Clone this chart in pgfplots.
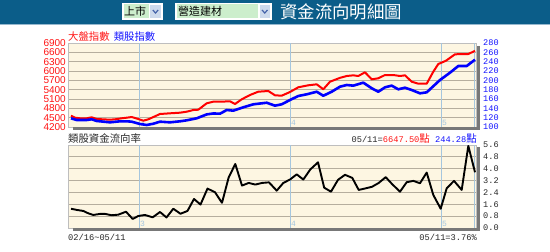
\documentclass[border=0pt]{standalone}
\usepackage{pgfplots}
\usepackage{pgfplotstable}
\pgfplotsset{compat=1.18}
\usepackage{fontspec}
\setmainfont{Liberation Sans}
\newfontfamily\cjk{Noto Sans CJK TC}
\newfontfamily\mono{Liberation Mono}
\definecolor{hdr}{RGB}{11,93,137}
\definecolor{hdrline}{RGB}{150,184,206}
\definecolor{cream}{RGB}{253,246,226}
\definecolor{gridc}{RGB}{182,174,158}
\definecolor{vlc}{RGB}{165,198,222}
\definecolor{shadow}{RGB}{120,120,120}
\definecolor{labred}{RGB}{255,20,20}
\definecolor{labblue}{RGB}{20,20,255}
\definecolor{fieldg}{RGB}{204,238,204}
\definecolor{btn}{RGB}{205,218,236}
\definecolor{chev}{RGB}{70,100,170}
\definecolor{boxln}{RGB}{190,190,190}
\definecolor{txt}{RGB}{40,40,40}
\newcommand{\mn}{\mono\fontsize{8.7}{10}\selectfont}
\newcommand{\ck}{\cjk\fontsize{10.4}{12}\selectfont}

\pgfplotstableread{
x v
71 4563
75 4499
80 4480
86.7 4480
91.7 4512
96.7 4457
110 4435
115 4447
121.7 4480
126.7 4499
131.7 4521
138.3 4457
143.3 4403
148.3 4447
155 4544
160 4618
170 4640
180 4660
186.7 4692
193.3 4746
198.3 4756
206.7 4962
213.3 5013
220 5013
230 5026
235 4939
241.7 5090
250 5228
258.3 5335
268.3 5357
275 5219
281.7 5206
290 5325
298.3 5476
308.3 5540
316.7 5572
323.3 5412
330 5656
340 5780
346.7 5839
353.3 5861
358.3 5839
365 5958
371.7 5733
378.3 5765
385 5871
393.3 5871
400 5839
405 5861
411.7 5656
418.3 5592
426.7 5592
433.3 5977
438.3 6225
446 6331
455 6537
468.3 6546
475 6647.5
}\reddata

\pgfplotstableread{
x v
71 118.6
76.7 115
86.7 115
91.7 116.5
96.7 112.9
110 110
120 112.2
126.7 112.2
131.7 111.4
140 106.4
146.7 104.3
153.3 107
160 111.4
170 110
180 112.2
186.7 114.3
196.7 118.6
206.7 127
213.3 129
220 128.5
226.7 136.4
233.3 135
243.3 142.2
253.3 148.6
266.7 152
275 145.7
281.7 148.6
290 157.9
298.3 166.4
306.7 170
316.7 175.6
323.3 167
331.7 175.6
340 186.4
346.7 190
353.3 188.6
363.3 195
371.7 183
378.3 175.6
385 185
391.7 188.6
398.3 180.8
405 184.2
411.7 179.3
420 172.2
426.7 174.3
440 200.7
450 216.4
458.3 230.7
466.7 230.7
475 244.28
}\bluedata

\pgfplotstableread{
x v
71 1.30
76.7 1.22
83.3 1.15
88 1.00
93.3 0.88
100 0.95
105 0.95
111.7 0.86
118.3 0.90
126 1.10
132.7 0.61
138.3 0.81
145 0.88
152.7 0.72
160 1.08
166.5 0.71
173.3 1.30
180.5 0.96
187.5 1.15
194 1.96
200.5 1.58
207.5 2.66
215 2.41
222 1.70
228.7 3.42
235.3 4.32
242 2.86
248.7 3.04
255.3 2.93
262 3.04
269 3.08
276.7 2.52
283.3 3.04
290 3.27
296.7 3.62
303.3 3.27
310.3 3.95
318 4.43
324.2 2.72
331 2.45
338 3.25
345 3.59
352.3 3.38
358.7 2.57
365.3 2.67
372 2.78
378.7 3.04
385.7 3.43
392.3 2.95
400 2.45
406.7 3.09
413.3 3.18
420 3.02
426.7 3.74
433.3 2.23
440.7 1.30
446.7 2.68
454 3.18
461.7 2.57
468.3 5.54
475 3.76
}\flowdata

\pgfplotsset{
  base/.style={
    scale only axis, width=408pt, xmin=68, xmax=476,
    xtick=\empty, major tick length=0pt,
    axis line style={draw=boxln, line width=0.6pt},
    /pgf/number format/assume math mode=true,
    /pgf/number format/1000 sep={},
    scaled y ticks=false,
    clip=true,
  }
}

\begin{document}
\begin{tikzpicture}
\begin{scope}[x=1pt,y=1pt]
\useasboundingbox (0,0) rectangle (550,252);
\fill[white] (0,0) rectangle (550,252);
% header
\fill[hdr] (0,228) rectangle (550,252);
\draw[hdrline, line width=1pt] (0,227.5) -- (550,227.5);
% dropdown 1
\fill[white] (122,232) rectangle (163,249);
\fill[fieldg] (123.5,233.5) rectangle (148.5,247.5);
\fill[btn] (149.5,233.5) rectangle (161.5,247.5);
\draw[white,line width=0.5pt] (149.5,233.5) rectangle (161.5,247.5);
\draw[chev, line width=1.2pt] (152.8,242) -- (155.5,239) -- (158.2,242);
\node[anchor=west, inner sep=0pt, text=black] at (124,240.5) {\cjk\fontsize{11}{12}\selectfont 上市};
% dropdown 2
\fill[white] (175,232) rectangle (272,249);
\fill[fieldg] (176.5,233.5) rectangle (258,247.5);
\fill[btn] (259,233.5) rectangle (270.5,247.5);
\draw[white,line width=0.5pt] (259,233.5) rectangle (270.5,247.5);
\draw[chev, line width=1.2pt] (262,242) -- (264.75,239) -- (267.5,242);
\node[anchor=west, inner sep=0pt, text=black] at (178,240.5) {\cjk\fontsize{11}{12}\selectfont 營造建材};
% title
\node[anchor=west, inner sep=0pt, text=white] at (280,240) {\cjk\fontsize{17.4}{18}\selectfont 資金流向明細圖};
% legend texts
\node[anchor=west, inner sep=0pt] at (68,215) {\ck\textcolor{labred}{大盤指數}\hspace{4pt}\textcolor{labblue}{類股指數}};
\end{scope}

% top axis (left, red)
\begin{axis}[base, at={(68pt,125pt)}, anchor=south west, height=84pt,
  ymin=4200, ymax=6900, ytick={4200,4500,...,6900},
  ymajorgrids, grid style={gridc, line width=0.9pt},
  axis background/.style={fill=cream},
  yticklabel style={text=labred, font=\fontsize{10}{10}\selectfont, inner sep=0pt, xshift=-2pt},
]
\draw[vlc, line width=1pt] (139,4200) -- (139,6900);
\draw[vlc, line width=1pt] (290,4200) -- (290,6900);
\draw[vlc, line width=1pt] (441,4200) -- (441,6900);
\draw[vlc, line width=1pt] (474.5,4200) -- (474.5,6900);
\node[anchor=south west, inner sep=1pt, text=vlc, font=\mono\fontsize{8}{8}\selectfont] at (139,4200) {3};
\node[anchor=south west, inner sep=1pt, text=vlc, font=\mono\fontsize{8}{8}\selectfont] at (290,4200) {4};
\node[anchor=south west, inner sep=1pt, text=vlc, font=\mono\fontsize{8}{8}\selectfont] at (441,4200) {5};
\addplot[red, line width=2pt, line join=round] table[x=x,y=v] {\reddata};
\end{axis}
% top axis (right, blue)
\begin{axis}[base, at={(68pt,125pt)}, anchor=south west, height=84pt,
  ymin=100, ymax=280, ytick={100,120,...,280},
  axis x line=none, axis y line*=right,
  yticklabel style={text=labblue, font=\mono\fontsize{8.6}{9}\selectfont, inner sep=0pt, xshift=7pt},
]
\addplot[blue, line width=2.6pt, line join=round] table[x=x,y=v] {\bluedata};
\end{axis}

% bottom axis
\begin{axis}[base, at={(68pt,24pt)}, anchor=south west, height=83pt,
  ymin=0, ymax=5.6, ytick={0,0.8,1.6,2.4,3.2,4.0,4.8,5.6},
  yticklabel pos=right,
  ymajorgrids, grid style={gridc, line width=0.9pt},
  axis background/.style={fill=cream},
  yticklabel style={text=txt, font=\mono\fontsize{8.6}{9}\selectfont, inner sep=0pt, xshift=7pt,
    /pgf/number format/fixed, /pgf/number format/fixed zerofill, /pgf/number format/precision=1},
]
\draw[vlc, line width=1pt] (139,0) -- (139,5.6);
\draw[vlc, line width=1pt] (290,0) -- (290,5.6);
\draw[vlc, line width=1pt] (441,0) -- (441,5.6);
\draw[vlc, line width=1pt] (474.5,0) -- (474.5,5.6);
\node[anchor=south west, inner sep=1pt, text=vlc, font=\mono\fontsize{8}{8}\selectfont] at (139,0) {3};
\node[anchor=south west, inner sep=1pt, text=vlc, font=\mono\fontsize{8}{8}\selectfont] at (290,0) {4};
\node[anchor=south west, inner sep=1pt, text=vlc, font=\mono\fontsize{8}{8}\selectfont] at (441,0) {5};
\addplot[black, line width=1.9pt, line join=round] table[x=x,y=v] {\flowdata};
\end{axis}

\begin{scope}[x=1pt,y=1pt]
% shadows
\fill[shadow] (73,122) rectangle (479.5,125);
\fill[shadow] (476.5,122) rectangle (479.5,206);
\fill[shadow] (73,21) rectangle (479.5,24);
\fill[shadow] (476.5,21) rectangle (479.5,105);
% bottom header texts
\node[anchor=west, inner sep=0pt, text=txt] at (68,113.5) {\ck 類股資金流向率};
\node[anchor=east, inner sep=0pt, text=txt] at (477,113.5) {\mn 05/11=\textcolor{labred}{6647.50\ck 點}\textcolor{labblue}{\mn\ 244.28\ck 點}};
% footer texts
\node[anchor=west, inner sep=0pt, text=txt] at (68,14.5) {\mn 02/16\textasciitilde 05/11};
\node[anchor=east, inner sep=0pt, text=txt] at (477,14.5) {\mn 05/11=3.76\%};
\end{scope}
\end{tikzpicture}
\end{document}
